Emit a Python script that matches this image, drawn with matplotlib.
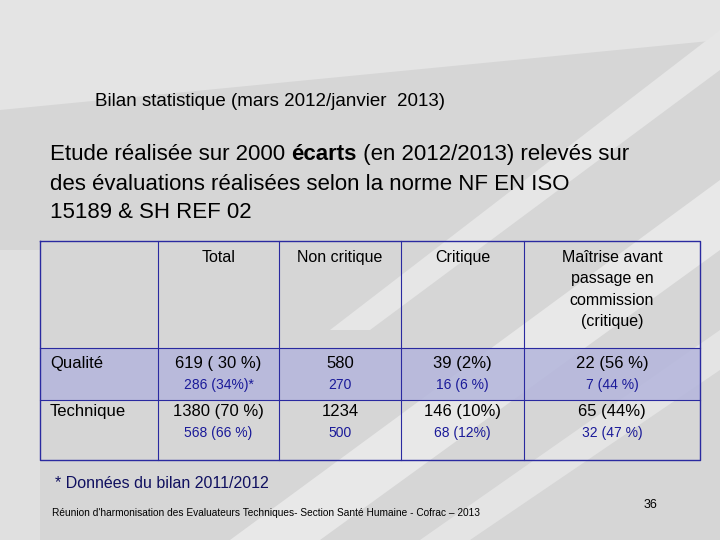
import matplotlib.pyplot as plt
from matplotlib.patches import Rectangle, Polygon

plt.rcParams['font.family'] = ['Liberation Sans', 'DejaVu Sans']

# table content
columns = ["Total", "Non critique", "Critique", "Maîtrise avant\npassage en\ncommission\n(critique)"]
rows = ["Qualité", "Technique"]
values_2013 = [["619 ( 30 %)", "580", "39 (2%)", "22 (56 %)"],
               ["1380 (70 %)", "1234", "146 (10%)", "65 (44%)"]]
values_2012 = [["286 (34%)*", "270", "16 (6 %)", "7 (44 %)"],
               ["568 (66 %)", "500", "68 (12%)", "32 (47 %)"]]

col_edges = [40, 158, 279, 401, 524, 700]
row_edges = [241, 348, 400, 460]

fig = plt.figure(figsize=(7.2, 5.4), dpi=100)
ax = fig.add_axes([0, 0, 1, 1])
ax.set_xlim(0, 720)
ax.set_ylim(540, 0)
ax.axis('off')

# slide background with soft diagonal bands
ax.add_patch(Rectangle((0, 0), 720, 540, color='#d6d6d6', zorder=0))
for pts, c in [
    ([(0, 0), (720, 0), (720, 40), (0, 110)], '#e4e4e4'),
    ([(230, 540), (320, 540), (720, 250), (720, 180)], '#e8e8e8'),
    ([(420, 540), (470, 540), (720, 370), (720, 330)], '#e4e4e4'),
    ([(0, 250), (40, 250), (40, 540), (0, 540)], '#e0e0e0'),
    ([(330, 330), (370, 330), (720, 70), (720, 30)], '#e6e6e6'),
]:
    ax.add_patch(Polygon(pts, closed=True, color=c, zorder=0.5, lw=0))

ax.text(95, 102, "Bilan statistique (mars 2012/janvier  2013)", fontsize=13.5, va='center')
fig.canvas.draw()
r = fig.canvas.get_renderer()
t0 = fig.text(50 / 720, 1 - 155 / 540, "Etude réalisée sur 2000 ", fontsize=16, va='center')
x = t0.get_window_extent(r).x1
t1 = fig.text(x / 720, 1 - 155 / 540, "écarts", fontsize=16, va='center', fontweight='bold')
x = t1.get_window_extent(r).x1
fig.text(x / 720, 1 - 155 / 540, " (en 2012/2013) relevés sur", fontsize=16, va='center')
lines = ["des évaluations réalisées selon la norme NF EN ISO", "15189 & SH REF 02"]
for i, s in enumerate(lines):
    ax.text(50, 184 + 29 * i, s, fontsize=16, va='center')

# table
ax.add_patch(Rectangle((40, row_edges[1]), 660, row_edges[2] - row_edges[1],
                       color='#b4b6dc', alpha=0.85, zorder=1, lw=0))
blue = '#1a1a99'
ax.plot([40, 700, 700, 40, 40], [241, 241, 460, 460, 241], color='#2a2aa0', lw=1, zorder=2)
for xe in col_edges[1:-1]:
    ax.plot([xe, xe], [241, 460], color='#2a2aa0', lw=0.8, zorder=2)
for y in row_edges[1:-1]:
    ax.plot([40, 700], [y, y], color='#2a2aa0', lw=0.8, zorder=2)

for j, c in enumerate(columns):
    cx = (col_edges[j + 1] + col_edges[j + 2]) / 2
    for k, part in enumerate(c.split("\n")):
        ax.text(cx, 262 + 21.3 * k, part, fontsize=11.5, ha='center', va='baseline', zorder=3)

row_y = [368, 416]
for i, rname in enumerate(rows):
    y = row_y[i]
    ax.text(50, y, rname, fontsize=12, va='baseline', zorder=3)
    for j in range(4):
        cx = (col_edges[j + 1] + col_edges[j + 2]) / 2
        ax.text(cx, y, values_2013[i][j], fontsize=12, ha='center', va='baseline', zorder=3)
        ax.text(cx, y + 21, values_2012[i][j], fontsize=10, ha='center', va='baseline',
                color=blue, zorder=3)

ax.text(55, 484, "* Données du bilan 2011/2012", fontsize=11.5, va='center', color='#101060')
ax.text(52, 513, "Réunion d'harmonisation des Evaluateurs Techniques- Section Santé Humaine - Cofrac – 2013",
        fontsize=7.3, va='center')
ax.text(650, 505, "36", fontsize=9, ha='center', va='center')

fig.savefig("out.png", dpi=100)
